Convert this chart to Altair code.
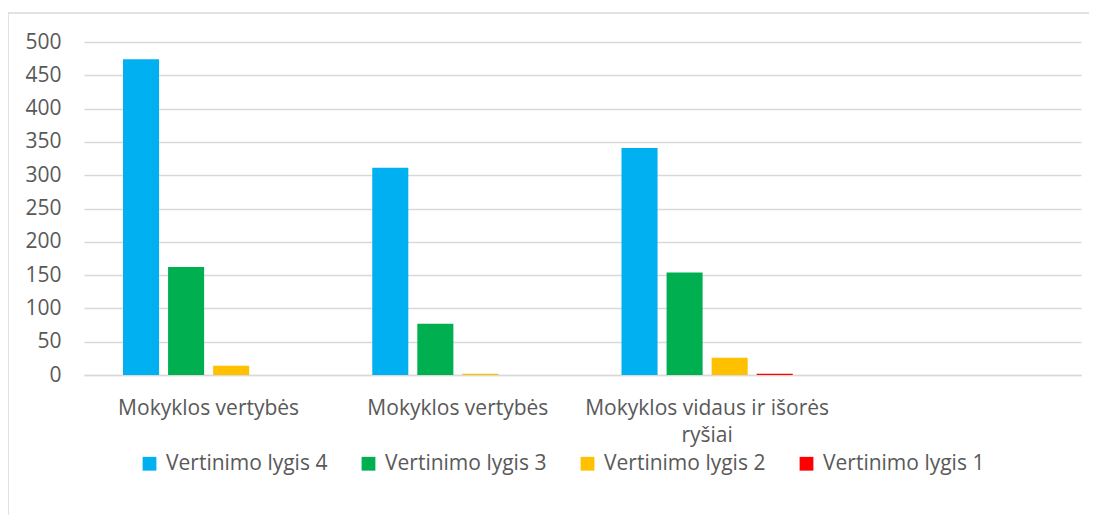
import json
import altair as alt
import pandas as pd

# ---- data ----
category_lines = [["Mokyklos vertybės"], ["Mokyklos vertybės"], ["Mokyklos vidaus ir išorės", "ryšiai"], [""]]
slots = ["s1", "s2", "s3", "s4"]
series = ["Vertinimo lygis 4", "Vertinimo lygis 3", "Vertinimo lygis 2", "Vertinimo lygis 1"]
level4 = [474, 311, 341]
level3 = [162, 77, 154]
level2 = [14, 2, 26]
level1 = [0, 0, 2]
colors = ["#00B0F0", "#00B050", "#FFC000", "#FF0000"]
y_ticks = [0, 50, 100, 150, 200, 250, 300, 350, 400, 450, 500]

rows = []
for s_name, vals in zip(series, [level4, level3, level2, level1]):
    for slot, v in zip(slots, vals):
        rows.append({"slot": slot, "series": s_name, "value": v})
df = pd.DataFrame(rows)

# label expression mapping slot keys to (possibly multi-line) labels
expr = "''"
for slot, lines in reversed(list(zip(slots, category_lines))):
    expr = f"datum.value == '{slot}' ? {json.dumps(lines, ensure_ascii=False)} : ({expr})"

FONT = "Open Sans"
FS = 21
GRID = "#d9d9d9"
TXT = "#595959"

bars = alt.Chart(df).mark_bar().encode(
    x=alt.X("slot:N", scale=alt.Scale(domain=slots, paddingInner=0.313, paddingOuter=0.1565),
            axis=alt.Axis(title=None, labelAngle=0, labelExpr=expr, ticks=False, tickSize=0,
                          labelPadding=22, labelFontSize=FS, labelColor=TXT, labelFont=FONT,
                          labelLimit=500, labelLineHeight=27, domainColor=GRID, domainWidth=1.5,
                          grid=False)),
    xOffset=alt.XOffset("series:N", scale=alt.Scale(domain=series, paddingInner=0.2, paddingOuter=0)),
    y=alt.Y("value:Q", scale=alt.Scale(domain=[0, 500], nice=False),
            axis=alt.Axis(title=None, values=y_ticks, domain=False, ticks=False, tickSize=0,
                          labelPadding=23, labelFontSize=FS, labelColor=TXT, labelFont=FONT,
                          gridColor=GRID, gridWidth=1.5)),
    color=alt.Color("series:N", scale=alt.Scale(domain=series, range=colors),
                    legend=alt.Legend(title=None, orient="none", legendX=55, legendY=411,
                                      direction="horizontal", columns=4, symbolType="square",
                                      symbolSize=190, symbolStrokeWidth=0, symbolOpacity=1,
                                      labelFontSize=FS, labelColor=TXT, labelFont=FONT,
                                      labelLimit=400, columnPadding=30, labelOffset=6)),
)

frame = alt.Chart(pd.DataFrame({"a": [0]})).mark_rect(fill="transparent", stroke=GRID, strokeWidth=1.5).encode(
    x=alt.value(-76), x2=alt.value(1012), y=alt.value(-29), y2=alt.value(500)
)

chart = alt.layer(frame, bars).properties(
    width=997, height=333,
    autosize=alt.AutoSizeParams(type="none"),
    padding={"left": 76, "top": 34, "right": 8, "bottom": 140},
).configure_view(stroke=None)

chart.save("out.html", embed_options={"renderer": "svg", "actions": False})
